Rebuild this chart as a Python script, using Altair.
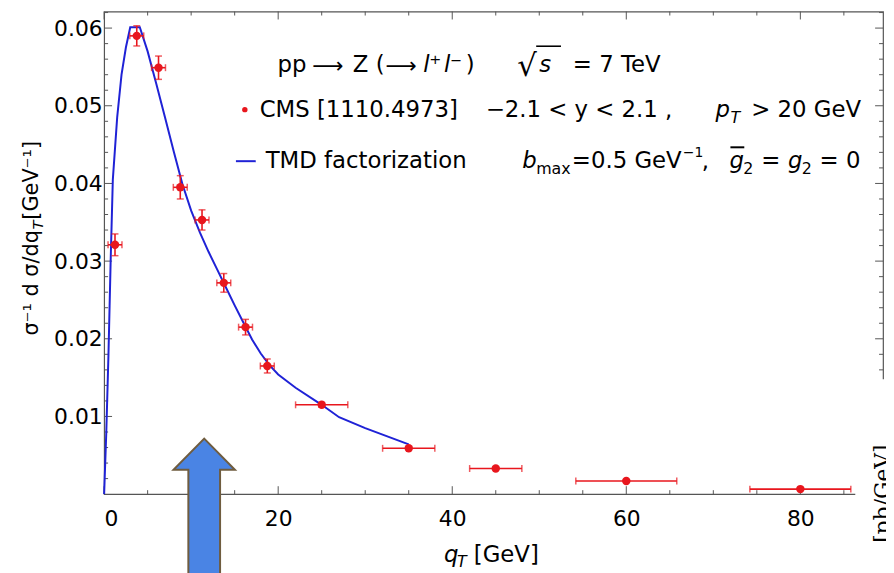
import altair as alt
import pandas as pd

# ---------------- data ----------------
qT = [1.25, 3.75, 6.25, 8.75, 11.25, 13.75, 16.25, 18.75, 25, 35, 45, 60, 80]
sigma = [0.0321, 0.0590, 0.0549, 0.0395, 0.0353, 0.0272, 0.0215, 0.0165,
         0.0115, 0.0059, 0.0033, 0.0017, 0.00065]
yerr = [0.0014, 0.0013, 0.0015, 0.0015, 0.0013, 0.0012, 0.0010, 0.0009,
        0.0003, 0.0002, 0.00015, 0.0001, 0.00005]
xerr = [0.8, 0.8, 0.8, 0.8, 0.8, 0.8, 0.8, 0.8, 3.0, 3.0, 3.0, 5.8, 5.8]

curve_q = [0, 0.25, 0.5, 0.75, 1.0, 1.5, 2.0, 2.5, 3.0, 4.1, 5.0, 6.0, 7.0, 8.0,
           9.0, 10.0, 11.0, 12.0, 13.0, 14.0, 15.0, 16.0, 17.0, 18.0, 19.0,
           20.0, 22.0, 25.0, 27.0, 30.0, 35.0]
curve_v = [0.0, 0.008, 0.018, 0.030, 0.0405, 0.0485, 0.054, 0.0575, 0.0601,
           0.0601, 0.0570, 0.0528, 0.0485, 0.0441, 0.0399, 0.0365, 0.0337,
           0.0312, 0.0289, 0.0266, 0.0243, 0.0221, 0.0199, 0.0181, 0.0166,
           0.0154, 0.0137, 0.0115, 0.0099, 0.0085, 0.0064]

x_major = [0, 20, 40, 60, 80]
x_minor = [5, 10, 15, 25, 30, 35, 45, 50, 55, 65, 70, 75, 85]
y_major = [0.01, 0.02, 0.03, 0.04, 0.05, 0.06]
y_minor = [0.002, 0.004, 0.006, 0.008, 0.012, 0.014, 0.016, 0.018, 0.022,
           0.024, 0.026, 0.028, 0.032, 0.034, 0.036, 0.038, 0.042, 0.044,
           0.046, 0.048, 0.052, 0.054, 0.056, 0.058, 0.062]

# ---------------- layout ----------------
FONT = "DejaVu Sans"
W, H = 786, 487
X0, Y0 = 105, 9          # page position of the plot origin
RED = "#e8161d"
BLUE = "#1f22d6"

xs = alt.Scale(domain=[0, 89.5], nice=False, zero=False)
ys = alt.Scale(domain=[0, 0.06213], nice=False, zero=False)
AX = alt.Axis(values=x_major, format="d", title=None, labelFont=FONT, labelFontSize=22,
              labelColor="black", ticks=False, tickSize=0, domain=False, grid=False,
              labelPadding=15)
AY = alt.Axis(values=y_major, format=".2f", title=None, labelFont=FONT, labelFontSize=22,
              labelColor="black", ticks=False, tickSize=0, domain=False, grid=False,
              labelPadding=2)

def X(f):
    return alt.X(f, scale=xs, axis=AX)

def Y(f):
    return alt.Y(f, scale=ys, axis=AY)

df = pd.DataFrame({"q": qT, "s": sigma, "ey": yerr, "ex": xerr})
df["lo"] = df.s - df.ey
df["hi"] = df.s + df.ey
df["xl"] = df.q - df.ex
df["xh"] = df.q + df.ex
cdf = pd.DataFrame({"q": curve_q, "v": curve_v})

base = alt.Chart(df)

points = base.mark_circle(size=72, color=RED, opacity=1).encode(x=X("q:Q"), y=Y("s:Q"))
vbar = base.mark_rule(color=RED, strokeWidth=1.6).encode(x=X("q:Q"), y=Y("lo:Q"), y2="hi:Q")
hbar = base.mark_rule(color=RED, strokeWidth=1.6).encode(x=X("xl:Q"), x2="xh:Q", y=Y("s:Q"))
capv_lo = base.mark_tick(color=RED, orient="horizontal", size=7, thickness=1.5).encode(
    x=X("q:Q"), y=Y("lo:Q"))
capv_hi = base.mark_tick(color=RED, orient="horizontal", size=7, thickness=1.5).encode(
    x=X("q:Q"), y=Y("hi:Q"))
caph_lo = base.mark_tick(color=RED, orient="vertical", size=7, thickness=1.5).encode(
    x=X("xl:Q"), y=Y("s:Q"))
caph_hi = base.mark_tick(color=RED, orient="vertical", size=7, thickness=1.5).encode(
    x=X("xh:Q"), y=Y("s:Q"))

curve = alt.Chart(cdf).mark_line(color=BLUE, strokeWidth=2).encode(x=X("q:Q"), y=Y("v:Q"))

# frame ticks (inward, on all four sides)
TK = "#555555"
def xticks(vals, ln):
    d = alt.Chart(pd.DataFrame({"v": vals}))
    b = d.mark_rule(color=TK, strokeWidth=1).encode(
        x=X("v:Q"), y=alt.value(H), y2=alt.value(H - ln))
    t = d.mark_rule(color=TK, strokeWidth=1).encode(
        x=X("v:Q"), y=alt.value(0), y2=alt.value(ln))
    return [b, t]

def yticks(vals, ln):
    d = alt.Chart(pd.DataFrame({"v": vals}))
    l = d.mark_rule(color=TK, strokeWidth=1).encode(
        y=Y("v:Q"), x=alt.value(0), x2=alt.value(ln))
    r = d.mark_rule(color=TK, strokeWidth=1).encode(
        y=Y("v:Q"), x=alt.value(W), x2=alt.value(W - ln))
    return [l, r]

ticks = xticks(x_major, 8) + xticks(x_minor, 4) + yticks(y_major, 8) + yticks(y_minor, 4)

# ---------------- text pieces ----------------
def txt(s, px, py, size=23, style="normal", angle=0, color="black", font=FONT):
    return alt.Chart(pd.DataFrame({"t": [s]})).mark_text(
        align="left", baseline="alphabetic", fontSize=size, fontStyle=style,
        font=font, angle=angle, color=color).encode(
        text="t:N", x=alt.value(px - X0), y=alt.value(py - Y0))

def hrule(x1, x2, py, color="black", w=1.5):
    return alt.Chart(pd.DataFrame({"a": [0]})).mark_rule(color=color, strokeWidth=w).encode(
        x=alt.value(x1 - X0), x2=alt.value(x2 - X0), y=alt.value(py - Y0))

texts = [
    # line 1
    txt("pp", 280, 70), txt("⟶", 315, 71, size=22), txt("Z", 356, 70), txt("(", 379, 70),
    txt("⟶", 389, 71, size=22), txt("l", 427, 70, style="italic"), txt("⁺", 433, 70),
    txt("l", 448, 70, style="italic"), txt("⁻", 454, 70), txt(")", 470, 70),
    txt("√", 522, 74, size=31), hrule(541, 566, 44, w=1.6),
    txt("s", 544, 70, style="italic"), txt("= 7 TeV", 578, 70),
    # line 2
    txt("CMS [1110.4973]", 262, 115),
    txt("−2.1 < y < 2.1 ,", 490, 115),
    txt("p", 722, 115, style="italic"), txt("T", 737, 121, size=16, style="italic"),
    txt("> 20 GeV", 758, 115),
    # line 3
    txt("TMD factorization", 268, 167),
    txt("b", 527, 167, style="italic"), txt("max", 541, 173, size=16),
    txt("=0.5 GeV", 577, 167), txt("−1", 689, 156, size=14), txt(",", 708, 167),
    txt("g", 736, 167, style="italic"), hrule(737, 751, 146, w=2),
    txt("2", 750, 173, size=16), txt("=", 768, 167),
    txt("g", 795, 167, style="italic"), txt("2", 809, 173, size=16),
    txt("= 0", 827, 167),
    # x title
    txt("q", 448, 564, size=23, style="italic"), txt("T", 461, 570, size=16, style="italic"),
    txt("[GeV]", 478, 564, size=23),
    # y title (rotated)
    txt("σ⁻¹ d σ/dq", 38, 336, size=21, angle=270),
    txt("T", 43, 229, size=15, style="italic", angle=270),
    txt("[GeV⁻¹]", 38, 219, size=21, angle=270),
]

legend_dot = alt.Chart(pd.DataFrame({"a": [0]})).mark_circle(size=30, color=RED, opacity=1).encode(
    x=alt.value(247 - X0), y=alt.value(108 - Y0))
legend_line = hrule(238, 258, 160, color=BLUE, w=2)

# overlay of the neighbouring figure at the right edge
overlay = alt.Chart(pd.DataFrame({"a": [0]})).mark_rect(color="white").encode(
    x=alt.value(863 - X0), x2=alt.value(900 - X0),
    y=alt.value(380 - Y0), y2=alt.value(580 - Y0))
pb = txt("[pb/GeV]", 898, 545, size=22, angle=270, font="DejaVu Serif")

# blue arrow
arrow_path = ("M 0 -1 L 0.248 -0.748 L 0.128 -0.748 L 0.128 1 L -0.128 1 "
              "L -0.128 -0.748 L -0.248 -0.748 Z")
arrow = alt.Chart(pd.DataFrame({"a": [0]})).mark_point(
    shape=arrow_path, size=62500, filled=True, fill="#4a84e4", stroke="#6f5c3f",
    strokeWidth=2, opacity=1, fillOpacity=1).encode(
    x=alt.value(206 - X0), y=alt.value(565 - Y0))

chart = alt.layer(
    *ticks, curve, hbar, vbar, capv_lo, capv_hi, caph_lo, caph_hi, points,
    *texts, legend_dot, legend_line, overlay, pb, arrow
).properties(
    width=W, height=H,
    autosize=alt.AutoSizeParams(type="none"),
    padding={"left": 97, "top": 1, "right": 3, "bottom": 77},
).configure_view(stroke="#555555", strokeWidth=1.2)

chart.save("out.html", embed_options={"renderer": "svg", "actions": False})
